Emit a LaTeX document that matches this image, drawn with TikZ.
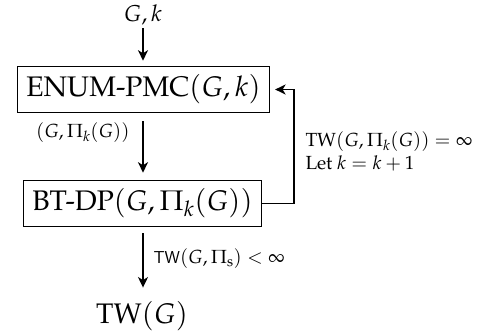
\documentclass[tikz,border=0pt]{standalone}
\usepackage[T1]{fontenc}
\usepackage{mathpazo}
\usetikzlibrary{arrows.meta}
\begin{document}
\begin{tikzpicture}[x=1pt,y=-1pt,
  huge/.style={font=\fontsize{28.3}{34}\selectfont},
  mid/.style={font=\fontsize{23}{28}\selectfont},
  proc/.style={huge, draw, line width=1.1pt, inner xsep=9pt, inner ysep=8.5pt},
  lbl/.style={font=\fontsize{19}{22.5}\selectfont},
  flow/.style={line width=1.6pt, -{Stealth[length=10.5pt,width=10pt,inset=3pt]}},
]
\useasboundingbox (0,0) rectangle (486,335);

% nodes of the loop
\node[mid, inner sep=0pt] (in) at (143,15) {$G,k$};
\node[proc] (enum) at (143.5,89.5) {ENUM-PMC$(G,k)$};
\node[proc] (bt) at (142.5,203.5) {BT-DP$(G,\Pi_k(G))$};
\node[huge, inner sep=0pt] (out) at (142,316.5) {TW$(G)$};

% column of the downward arrows and the corner of the return path
\coordinate (col) at (143,0);
\coordinate (turn) at (294,0);

\draw[flow, shorten <=3pt, shorten >=5pt] (col |- in.south) -- (col |- enum.north);
\draw[flow, shorten <=8pt, shorten >=7pt] (col |- enum.south) -- (col |- bt.north);
\draw[flow, shorten <=6pt, shorten >=14pt] (col |- bt.south) -- (col |- out.north);
\draw[flow, shorten >=5pt] (bt.east) -- (turn |- bt.east) |- (enum.east);

% edge labels
\node[lbl, anchor=east] (pl) at (133,133) {$(G,\Pi_k(G))$};
\node[lbl, anchor=west, align=left] (fb) at (302,151.5)
  {TW$(G,\Pi_k(G))=\infty$\\Let $k=k+1$};
\node[lbl, anchor=west] (ok) at (150,259) {$\mathsf{TW}(G,\Pi_{\mathrm{s}})<\infty$};
\end{tikzpicture}
\end{document}
